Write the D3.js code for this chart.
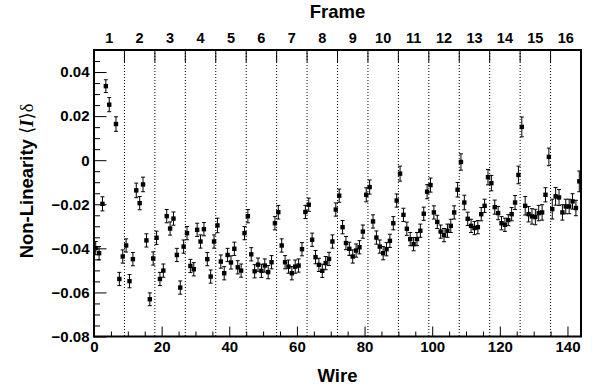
<!DOCTYPE html>
<html><head><meta charset="utf-8">
<script src="https://cdn.jsdelivr.net/npm/d3@7"></script>
<style>
body{margin:0;background:#fff}
svg{display:block;font-family:"Liberation Sans",Arial,Helvetica,sans-serif;font-weight:bold}
</style>
</head><body>
<svg id="c" width="596" height="391"></svg>
<script>
// Non-linearity per wire (index = wire number, null = no measurement)
const nonLinearity = [
 -0.0399,-0.0422,-0.0198, 0.0336, 0.0252, null,   0.0164,-0.0539,-0.0437,
 -0.0387,-0.0549,-0.0449,-0.0137,-0.0195,-0.0110,-0.0364,-0.0631,-0.0446,
 -0.0352,-0.0539,-0.0501,-0.0254,-0.0310,-0.0265,-0.0430,-0.0578,-0.0392,
 -0.0331,-0.0480,-0.0495,-0.0316,-0.0369,-0.0313,-0.0449,-0.0528,-0.0369,
 -0.0296,-0.0460,-0.0513,-0.0430,-0.0464,-0.0402,-0.0486,-0.0501,-0.0331,
 -0.0254,-0.0427,-0.0504,-0.0474,-0.0502,-0.0478,-0.0508,-0.0463,-0.0286,
 -0.0236,-0.0387,-0.0463,-0.0483,-0.0513,-0.0483,-0.0478,-0.0404,-0.0235,
 -0.0202,-0.0361,-0.0440,-0.0475,-0.0502,-0.0467,-0.0448,-0.0369,-0.0224,
 -0.0161,-0.0304,-0.0376,-0.0402,-0.0437,-0.0410,-0.0395,-0.0324,-0.0157,
 -0.0122,-0.0278,-0.0351,-0.0392,-0.0422,-0.0404,-0.0366,-0.0286,-0.0183,
 -0.0061,-0.0248,-0.0311,-0.0358,-0.0381,-0.0358,-0.0320,-0.0243,-0.0143,
 -0.0113,-0.0237,-0.0280,-0.0324,-0.0340,-0.0320,-0.0298,-0.0237,-0.0134,
 -0.0008,-0.0192,-0.0266,-0.0298,-0.0308,-0.0304,-0.0245,-0.0207,-0.0077,
 -0.0104,-0.0213,-0.0240,-0.0286,-0.0293,-0.0272,-0.0245,-0.0192,-0.0067,
  0.0151,-0.0207,-0.0245,-0.0255,-0.0258,-0.0240,-0.0237,-0.0157, 0.0015,
 -0.0222,-0.0164,-0.0169,-0.0237,-0.0210,-0.0210,-0.0187,-0.0217,-0.0096
];
const errors = [
 0.003,0.003,0.0032,0.0029,0.0032,null,0.0033,0.003,0.003,
 0.003,0.003,0.003,0.0033,0.003,0.0033,0.003,0.0029,0.003,
 0.003,0.003,0.003,0.003,0.003,0.003,0.003,0.003,0.003,
 0.003,0.003,0.003,0.003,0.003,0.003,0.003,0.003,0.003,
 0.0033,0.003,0.003,0.003,0.003,0.003,0.003,0.003,0.003,
 0.003,0.003,0.003,0.003,0.003,0.003,0.003,0.003,0.003,
 0.0031,0.003,0.003,0.003,0.003,0.003,0.003,0.003,0.003,
 0.003,0.003,0.003,0.003,0.003,0.003,0.003,0.003,0.003,
 0.003,0.003,0.003,0.003,0.003,0.003,0.003,0.003,0.0032,
 0.0032,0.003,0.003,0.003,0.003,0.003,0.003,0.003,0.003,
 0.0034,0.003,0.003,0.003,0.003,0.003,0.003,0.003,0.0032,
 0.0032,0.003,0.003,0.003,0.003,0.003,0.003,0.003,0.0033,
 0.0037,0.0033,0.003,0.003,0.003,0.003,0.003,0.003,0.0035,
 0.0035,0.0032,0.003,0.003,0.003,0.0025,0.003,0.0032,0.004,
 0.0045,0.0042,0.0035,0.0035,0.0035,0.0035,0.0035,0.0032,0.004,
 0.0045,0.004,0.0036,0.0035,0.0033,0.0033,0.0035,0.0035,0.0047
];
const frameLabels = ["1","2","3","4","5","6","7","8","9","10","11","12","13","14","15","16"];
const wireTicks = [0,20,40,60,80,100,120,140];
const wireMinorTicks = [5,10,15,25,30,35,45,50,55,65,70,75,85,90,95,105,110,115,125,130,135];
const yTicks = [0.04,0.02,0,-0.02,-0.04,-0.06,-0.08];
const yMinorTicks = [0.045,0.035,0.03,0.025,0.015,0.01,0.005,-0.005,-0.01,-0.015,-0.025,-0.03,-0.035,-0.045,-0.05,-0.055,-0.065,-0.07,-0.075];
const wiresPerFrame = 9;
const nWires = 144;

const svg = d3.select("#c");
const L = 94, R = 581, T = 50, B = 336.5;
const x = d3.scaleLinear().domain([0, nWires]).range([L, R]);
const y = d3.scaleLinear().domain([-0.08, 0.05]).range([B, T]);

// frame boundaries (dotted)
const bounds = frameLabels.map((f, i) => (i + 1) * wiresPerFrame);
svg.append("g").selectAll("line").data(bounds).join("line")
  .attr("x1", d => x(d)).attr("x2", d => x(d))
  .attr("y1", T).attr("y2", B)
  .attr("stroke", "#000").attr("stroke-width", 1)
  .attr("stroke-dasharray", "1,2");

// top frame ticks (solid)
svg.append("g").selectAll("line").data(bounds).join("line")
  .attr("x1", d => x(d)).attr("x2", d => x(d))
  .attr("y1", T).attr("y2", T + 12)
  .attr("stroke", "#000").attr("stroke-width", 1);

// top frame labels
svg.append("g").selectAll("text").data(frameLabels).join("text")
  .attr("x", (d, i) => x(i * wiresPerFrame + wiresPerFrame / 2))
  .attr("y", 42.7)
  .attr("text-anchor", "middle")
  .attr("font-size", 14.5)
  .text(d => d);

// bottom axis
const xAxis = svg.append("g").attr("transform", `translate(0,${B})`)
  .call(d3.axisBottom(x).tickValues(wireTicks).tickSize(-10).tickPadding(5).tickFormat(d3.format("d")));
xAxis.select(".domain").remove();
xAxis.selectAll("text").attr("font-size", 15).attr("font-family", null).attr("font-weight", "bold");
xAxis.selectAll("line").attr("stroke-width", 1);
svg.append("g").attr("transform", `translate(0,${B})`)
  .call(d3.axisBottom(x).tickValues(wireMinorTicks).tickSize(-5).tickFormat(""))
  .call(g => g.select(".domain").remove());

// left axis
const yFmt = d => d === 0 ? "0" : d3.format(".2f")(d);
const yAxis = svg.append("g").attr("transform", `translate(${L},0)`)
  .call(d3.axisLeft(y).tickValues(yTicks).tickSize(-12.5).tickPadding(4.5).tickFormat(yFmt));
yAxis.select(".domain").remove();
yAxis.selectAll("text").attr("font-size", 15).attr("font-weight", "bold");
svg.append("g").attr("transform", `translate(${L},0)`)
  .call(d3.axisLeft(y).tickValues(yMinorTicks).tickSize(-6).tickFormat(""))
  .call(g => g.select(".domain").remove());
svg.selectAll(".tick line").attr("stroke", "#000");
svg.selectAll(".tick text").attr("fill", "#000");

// frame
svg.append("rect").attr("x", L).attr("y", T).attr("width", R - L).attr("height", B - T)
  .attr("fill", "none").attr("stroke", "#000").attr("stroke-width", 2);

// data points with error bars
const pts = nonLinearity.map((v, i) => ({w: i + 0.5, v, e: errors[i]})).filter(d => d.v !== null);
const gp = svg.append("g");
const cap = 2;
gp.selectAll("line.eb").data(pts).join("line").attr("class", "eb")
  .attr("x1", d => x(d.w)).attr("x2", d => x(d.w))
  .attr("y1", d => y(d.v - d.e)).attr("y2", d => y(d.v + d.e))
  .attr("stroke", "#000").attr("stroke-width", 1);
gp.selectAll("line.cu").data(pts).join("line").attr("class", "cu")
  .attr("x1", d => x(d.w) - cap).attr("x2", d => x(d.w) + cap)
  .attr("y1", d => y(d.v + d.e)).attr("y2", d => y(d.v + d.e))
  .attr("stroke", "#000").attr("stroke-width", 1);
gp.selectAll("line.cl").data(pts).join("line").attr("class", "cl")
  .attr("x1", d => x(d.w) - cap).attr("x2", d => x(d.w) + cap)
  .attr("y1", d => y(d.v - d.e)).attr("y2", d => y(d.v - d.e))
  .attr("stroke", "#000").attr("stroke-width", 1);
const ms = 4.4;
gp.selectAll("rect").data(pts).join("rect")
  .attr("x", d => x(d.w) - ms / 2).attr("y", d => y(d.v) - ms / 2)
  .attr("width", ms).attr("height", ms).attr("fill", "#000");

// titles
svg.append("text").attr("x", (L + R) / 2).attr("y", 18.3).attr("text-anchor", "middle")
  .attr("font-size", 18.5).text("Frame");
svg.append("text").attr("x", (L + R) / 2).attr("y", 381.7).attr("text-anchor", "middle")
  .attr("font-size", 18.5).text("Wire");
const yt = svg.append("text").attr("transform", "translate(32.5,181) rotate(-90)")
  .attr("text-anchor", "middle").attr("font-size", 18.5);
yt.append("tspan").text("Non-Linearity ");
yt.append("tspan").attr("font-family", "DejaVu Sans").attr("font-weight", "normal").text("\u27E8");
yt.append("tspan").attr("font-family", "Liberation Serif,serif").attr("font-style", "italic").text("I");
yt.append("tspan").attr("font-family", "DejaVu Sans").attr("font-weight", "normal").text("\u27E9");
yt.append("tspan").attr("font-family", "Liberation Serif,serif").attr("font-weight", "normal").text("\u03B4");
</script>
</body></html>
